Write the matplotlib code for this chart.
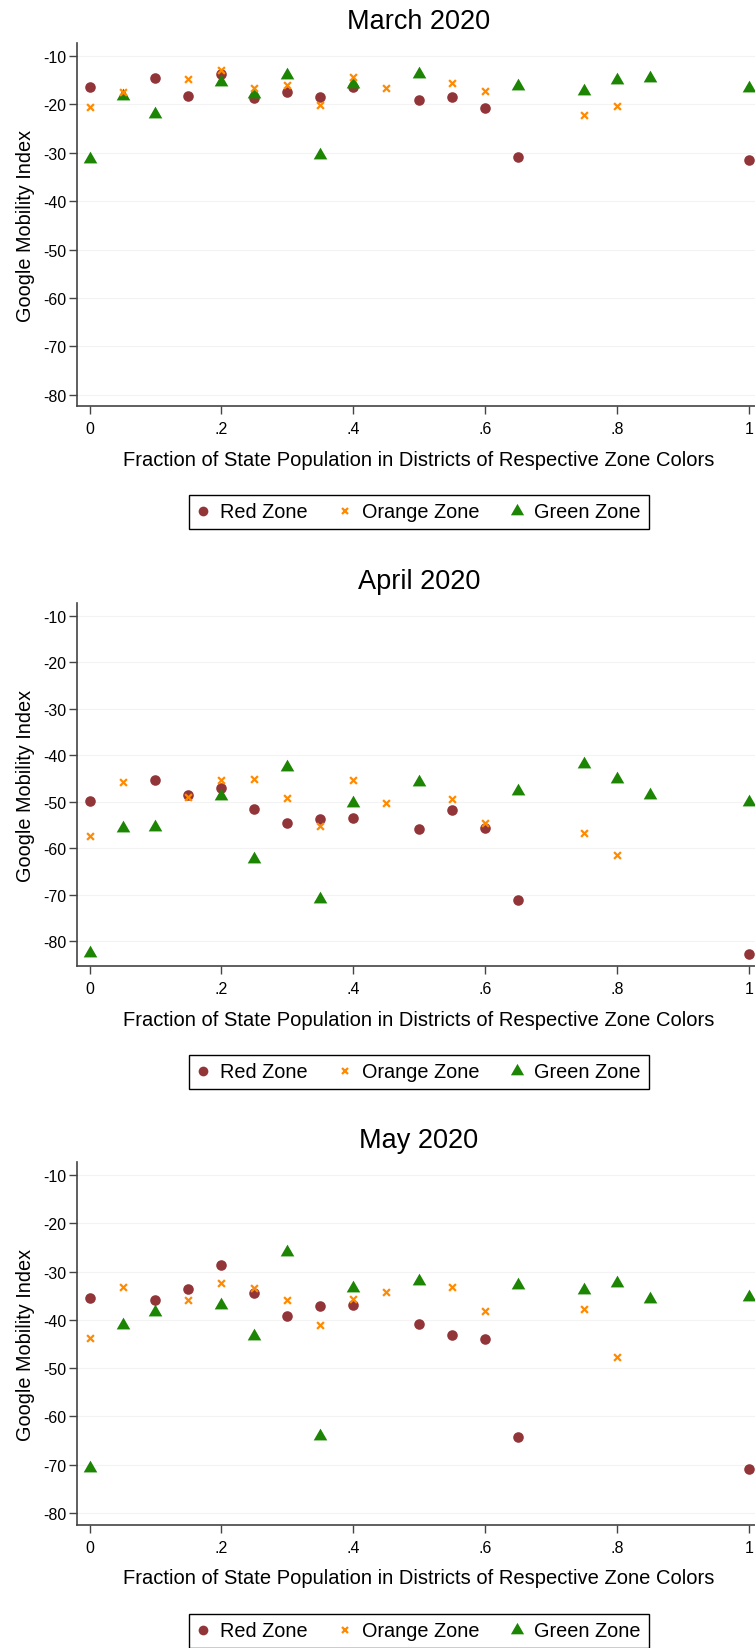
import matplotlib
matplotlib.use('Agg')
import matplotlib.pyplot as plt
from matplotlib.lines import Line2D

plt.rcParams['font.family'] = ['Liberation Sans', 'DejaVu Sans']

# share of state population living in districts of a given zone colour
red_x = [0, .1, .15, .2, .25, .3, .35, .4, .5, .55, .6, .65, 1]
orange_x = [0, .05, .15, .2, .25, .3, .35, .4, .45, .55, .6, .75, .8]
green_x = [0, .05, .1, .2, .25, .3, .35, .4, .5, .65, .75, .8, .85, 1]

months = ['March 2020', 'April 2020', 'May 2020']

red_y = [
    [-16.3, -14.6, -18.2, -13.7, -18.6, -17.4, -18.5, -16.4, -19.1, -18.4, -20.8, -30.9, -31.4],
    [-49.9, -45.3, -48.6, -47.0, -51.6, -54.7, -53.7, -53.6, -55.9, -51.8, -55.7, -71.1, -82.8],
    [-35.4, -35.9, -33.6, -28.7, -34.5, -39.1, -37.1, -37.0, -40.9, -43.2, -44.0, -64.3, -70.9],
]
orange_y = [
    [-20.5, -17.4, -14.8, -12.8, -16.7, -16.0, -20.1, -14.4, -16.5, -15.5, -17.2, -22.1, -20.4],
    [-57.5, -45.8, -48.9, -45.3, -45.1, -49.3, -55.2, -45.3, -50.3, -49.5, -54.7, -56.7, -61.5],
    [-43.8, -33.2, -35.9, -32.3, -33.5, -35.9, -41.1, -35.6, -34.3, -33.2, -38.2, -37.8, -47.6],
]
green_y = [
    [-31.2, -18.2, -21.9, -15.3, -17.9, -13.9, -30.5, -15.8, -13.8, -16.1, -17.2, -15.0, -14.5, -16.6],
    [-82.6, -55.7, -55.4, -48.8, -62.3, -42.5, -70.9, -50.3, -45.8, -47.8, -41.9, -45.2, -48.6, -50.0],
    [-70.7, -41.0, -38.3, -37.0, -43.4, -26.0, -64.1, -33.5, -32.0, -32.8, -33.8, -32.4, -35.6, -35.3],
]

y_ticks = [-10, -20, -30, -40, -50, -60, -70, -80]
x_ticks = [0, .2, .4, .6, .8, 1]
x_labels = ['0', '.2', '.4', '.6', '.8', '1']
y_limits = [(-82.3, -7.3), (-85.4, -7.2), (-82.5, -7.3)]
zone_names = ['Red Zone', 'Orange Zone', 'Green Zone']

RED = '#923539'
ORANGE = '#ff8a00'
GREEN = '#1c8503'
# equilateral triangle, centred on its centroid
TRI = [(-1, -0.577), (1, -0.577), (0, 1.155)]

W, H = 755, 1649
fig = plt.figure(figsize=(W / 100, H / 100), dpi=100)

tops = [44, 604, 1163]
ax_h = 363
left = 77

for i, month in enumerate(months):
    top = tops[i]
    ax = fig.add_axes([left / W, 1 - (top + ax_h) / H, (W - left) / W, ax_h / H])
    ax.scatter(red_x, red_y[i], s=58, marker='o', color=RED, linewidths=0, zorder=3, clip_on=False)
    ax.scatter(orange_x, orange_y[i], s=24, marker='x', color=ORANGE, linewidths=1.6, zorder=4, clip_on=False)
    ax.scatter(green_x, green_y[i], s=128, marker=TRI, color=GREEN, linewidths=0, zorder=3, clip_on=False)

    ax.set_xlim(-0.019, 1.009)
    ax.set_ylim(*y_limits[i])
    ax.set_yticks(y_ticks)
    ax.set_yticklabels([str(t) for t in y_ticks], fontsize=11.5)
    ax.set_xticks(x_ticks)
    ax.set_xticklabels(x_labels, fontsize=11.5)
    ax.tick_params(axis='y', length=5.5, width=1, color='#444444', pad=2)
    ax.tick_params(axis='x', length=5.5, width=1, color='#444444', pad=5)
    ax.grid(axis='y', color='#f3f3f3', linewidth=0.8, zorder=0)
    for side in ['top', 'right']:
        ax.spines[side].set_visible(False)
    for side in ['left', 'bottom']:
        ax.spines[side].set_color('#444444')
        ax.spines[side].set_linewidth(1.2)
    ax.set_ylabel('Google Mobility Index', fontsize=14.3, labelpad=6)

    bottom = top + ax_h
    fig.text(419 / W, 1 - (top - 22) / H, month, ha='center', va='center', fontsize=19.5)
    fig.text(419 / W, 1 - (bottom + 53) / H, 'Fraction of State Population in Districts of Respective Zone Colors',
             ha='center', va='center', fontsize=14.5)

    handles = [
        Line2D([], [], marker='o', linestyle='none', color=RED, markeredgewidth=0, markersize=7),
        Line2D([], [], marker='x', linestyle='none', color=ORANGE, markersize=5, markeredgewidth=1.6),
        Line2D([], [], marker=TRI, linestyle='none', color=GREEN, markeredgewidth=0, markersize=11),
    ]
    fig.legend(handles, zone_names, loc='center',
               bbox_to_anchor=(419 / W, 1 - (bottom + 106) / H), ncol=3, frameon=True, fancybox=False,
               edgecolor='black', framealpha=1, prop={'size': 14.3},
               handlelength=0.6, handletextpad=0.55, columnspacing=1.6, borderpad=0.4)

fig.savefig('out.png', dpi=100)
